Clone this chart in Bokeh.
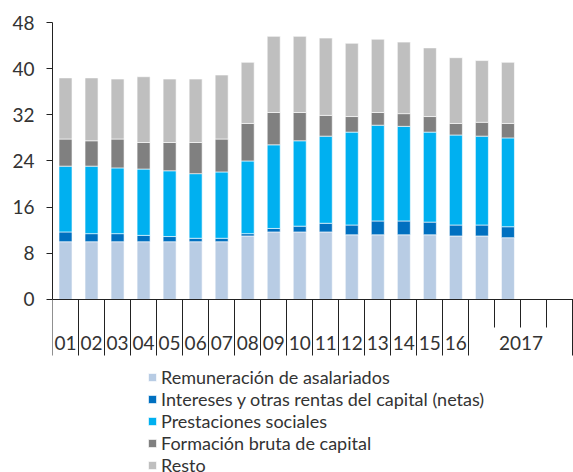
from bokeh.plotting import figure
from bokeh.models import ColumnDataSource, FixedTicker, LinearAxis, Legend, LegendItem, Range1d
from bokeh.embed import file_html
from bokeh.resources import INLINE

# ---- data ----
x_labels = ["01", "02", "03", "04", "05", "06", "07", "08", "09", "10",
            "11", "12", "13", "14", "15", "16", "2017"]
periods = ["01", "02", "03", "04", "05", "06", "07", "08", "09", "10",
           "11", "12", "13", "14", "15", "16", "2017T1", "2017T2"]
remuneracion = [10.0, 10.0, 10.0, 10.0, 10.0, 10.0, 10.0, 11.0, 11.7, 11.7,
                11.7, 11.2, 11.2, 11.2, 11.2, 11.0, 11.0, 10.7]
intereses = [1.7, 1.4, 1.4, 1.1, 0.9, 0.6, 0.6, 0.4, 0.6, 1.0,
             1.5, 1.7, 2.4, 2.4, 2.2, 1.9, 1.9, 1.9]
prestaciones = [11.4, 11.7, 11.4, 11.5, 11.4, 11.2, 11.5, 12.6, 14.5, 14.8,
                15.1, 16.1, 16.6, 16.4, 15.6, 15.6, 15.4, 15.4]
formacion = [4.7, 4.4, 5.0, 4.6, 4.9, 5.4, 5.7, 6.5, 5.6, 4.9,
             3.6, 2.7, 2.2, 2.2, 2.7, 2.0, 2.4, 2.5]
resto = [10.6, 10.9, 10.4, 11.4, 11.0, 11.0, 11.1, 10.6, 13.2, 13.2,
         13.4, 12.7, 12.7, 12.4, 11.9, 11.4, 10.7, 10.6]
series = ["Remuneración de asalariados",
          "Intereses y otras rentas del capital (netas)",
          "Prestaciones sociales",
          "Formación bruta de capital",
          "Resto"]
colors = ["#B8CCE4", "#0070C0", "#00B0F0", "#808080", "#BFBFBF"]
y_ticks = [0, 8, 16, 24, 32, 40, 48]

# slot positions: 16 annual slots + 4 quarterly slots of 2017
xpos = [i + 0.5 for i in range(len(periods))]
label_pos = xpos[:16] + [18.0]

FONT = "Lato"
TXT = "#333333"

p = figure(width=573, height=472, x_range=Range1d(0, 20.02), y_range=Range1d(-30, 48),
           output_backend="svg", toolbar_location=None,
           min_border_left=52, min_border_right=0, min_border_top=22, min_border_bottom=0,
           x_axis_type=None, y_axis_type=None)
p.outline_line_color = None
p.background_fill_color = "white"

keys = ["rem", "int", "pre", "for", "res"]
src = ColumnDataSource(dict(x=xpos, rem=remuneracion, int=intereses, pre=prestaciones,
                            **{"for": formacion}, res=resto))
rs = p.vbar_stack(keys, x="x", width=0.5, color=colors, source=src,
                  line_color="white", line_width=0.6)

# y axis
yax = LinearAxis(ticker=FixedTicker(ticks=y_ticks), bounds=(0, 48),
                 major_tick_out=6, major_tick_in=0, minor_tick_out=0, minor_tick_in=0,
                 axis_line_color="#222222", major_tick_line_color="#222222",
                 major_label_standoff=12, major_label_text_font=FONT,
                 major_label_text_font_size="19px", major_label_text_color=TXT)
p.add_layout(yax, "left")

# x axis line + separator ticks at y = 0
xax = LinearAxis(fixed_location=0,
                 ticker=FixedTicker(ticks=list(range(17)) + [20], minor_ticks=[17, 18, 19]),
                 major_tick_out=56, major_tick_in=0, minor_tick_out=28, minor_tick_in=0,
                 axis_line_color="#222222", major_tick_line_color="#222222",
                 minor_tick_line_color="#222222", major_label_text_color=None)
p.add_layout(xax, "below")

# period labels
lax = LinearAxis(fixed_location=-6.3, ticker=FixedTicker(ticks=label_pos),
                 axis_line_color=None, major_tick_line_color=None, minor_tick_line_color=None,
                 major_tick_out=0, major_tick_in=0, major_label_standoff=0,
                 major_label_overrides={t: l for t, l in zip(label_pos, x_labels)},
                 major_label_text_font=FONT, major_label_text_font_size="19px",
                 major_label_text_color=TXT)
p.add_layout(lax, "below")

items = [LegendItem(label=s, renderers=[rs[i]]) for i, s in enumerate(series)]
leg = Legend(items=items, location=(95, -4), orientation="vertical",
             glyph_width=10, glyph_height=10, label_standoff=4, spacing=0,
             padding=0, margin=0, border_line_color=None, background_fill_alpha=0,
             label_text_font=FONT, label_text_font_size="18px", label_text_color=TXT,
             label_height=21)
p.add_layout(leg)

open("out.html", "w").write(file_html(p, INLINE))
